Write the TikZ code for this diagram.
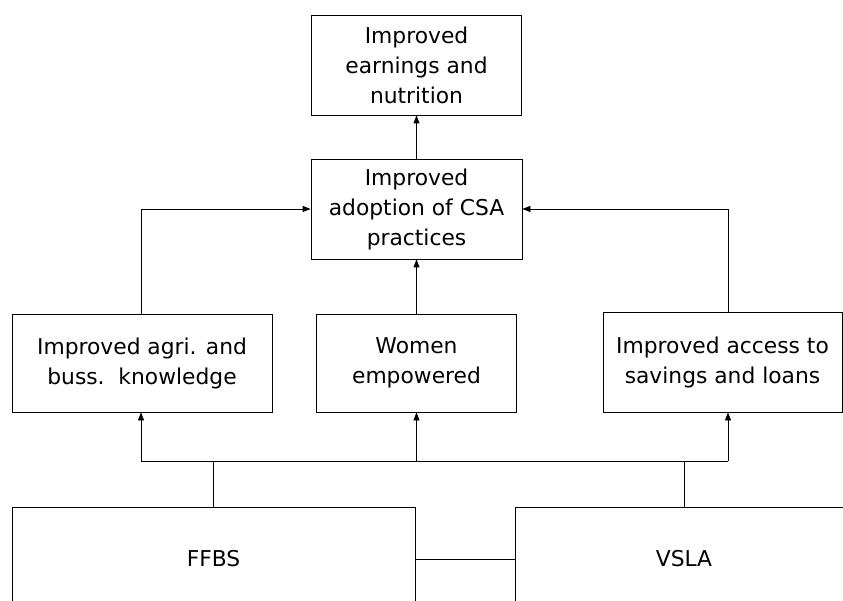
\documentclass[tikz,border=0pt]{standalone}
\usepackage{fontspec}
\setmainfont{DejaVu Sans}
\usetikzlibrary{arrows.meta}
\usetikzlibrary{positioning}

\tikzset{
	box/.style={draw, line width=0.8pt, align=center, inner sep=0pt,
		font=\fontsize{21.8}{30}\selectfont},
	arr/.style={-{Triangle[length=8pt,width=6pt]}, line width=0.8pt},
	link/.style={line width=0.8pt}
}

\begin{document}
\begin{tikzpicture}[x=1pt,y=-1pt]

	\useasboundingbox (0,0) rectangle (843,601);
	\clip (0,0) rectangle (843,601);

	% outcomes
	\node[box, minimum width=210, minimum height=100] (earn) at (416.5,65) {Improved\\earnings and\\nutrition};
	\node[box, minimum width=211, minimum height=100] (csa) at (416.5,209) {Improved\\adoption of CSA\\practices};

	% intermediate results
	\node[box, minimum width=260, minimum height=98] (agri) at (142,363) {Improved agri. and\\buss.\ \ knowledge};
	\node[box, minimum width=200, minimum height=98] (women) at (416.5,363) {Women\\empowered};
	\node[box, minimum width=239, minimum height=100] (access) at (722.5,362) {Improved access to\\savings and loans};

	% interventions (run off the page)
	\node[box, minimum width=403, minimum height=104] (ffbs) at (213.5,559) {FFBS};
	\node[box, minimum width=338, minimum height=104] (vsla) at (684,559) {VSLA};

	\coordinate (bus) at (0,461);
	\coordinate (accx) at (728,0);

	\draw[arr] (csa) -- (earn);
	\draw[arr] (women) -- (csa);
	\draw[arr] (agri.north -| 141,0) |- (csa.west);
	\draw[arr] (access.north -| accx) |- (csa.east);

	\draw[link] (ffbs.north) -- (ffbs.north |- bus);
	\draw[link] (vsla.north) -- (vsla.north |- bus);
	\draw[link] (141,0 |- bus) -- (accx |- bus);
	\draw[arr] (141,0 |- bus) -- (agri.south -| 141,0);
	\draw[arr] (women.south |- bus) -- (women.south);
	\draw[arr] (accx |- bus) -- (access.south -| accx);

	\draw[link] (ffbs.east) -- (vsla.west);

\end{tikzpicture}
\end{document}
